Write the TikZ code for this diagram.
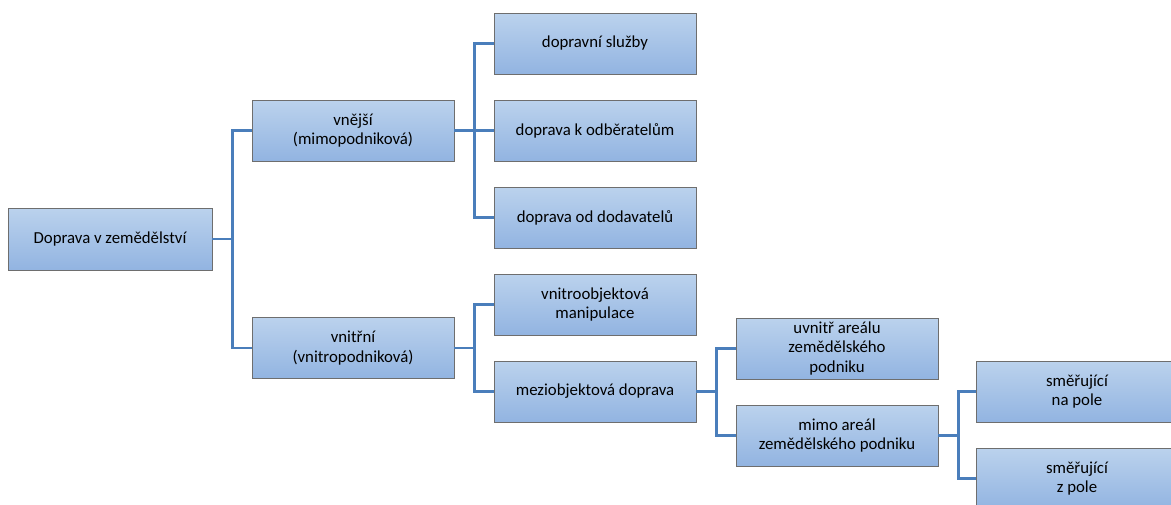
\documentclass[tikz,border=0pt]{standalone}
\usepackage{fontspec}
\setmainfont{Carlito}
\usetikzlibrary{positioning}

\definecolor{boxtop}{HTML}{BBD2ED}
\definecolor{boxbot}{HTML}{92B4E1}
\definecolor{boxline}{HTML}{6E6E6E}
\definecolor{linkblue}{HTML}{4A7EBB}

\begin{document}
\begin{tikzpicture}[x=1pt,y=-1pt,
  box/.style={draw=boxline,line width=0.8pt,top color=boxtop,bottom color=boxbot,
    minimum width=202pt,minimum height=61pt,inner sep=2pt,align=center,
    font=\fontsize{16.8}{19.5}\selectfont},
  link/.style={draw=linkblue,line width=2.4pt}]

\useasboundingbox (0,0) rectangle (1171,504);

% Level 0
\node[box,minimum width=204pt,minimum height=62pt] (root) at (110,239) {Doprava v zemědělství};

% Level 1
\node[box] (vnejsi) at (353,130.5) {vnější\\(mimopodniková)};
\node[box] (vnitrni) at (353,348) {vnitřní\\(vnitropodniková)};

% Level 2
\node[box] (sluzby) at (595,43.5) {dopravní služby};
\node[box] (odberatele) at (595,130.5) {doprava k odběratelům};
\node[box] (dodavatele) at (595,217.5) {doprava od dodavatelů};
\node[box] (manipulace) at (595,304.5) {vnitroobjektová\\manipulace};
\node[box] (mezi) at (595,391.5) {meziobjektová doprava};

% Level 3
\node[box] (uvnitr) at (837,348.5) {uvnitř areálu\\zemědělského\\podniku};
\node[box] (mimo) at (837,435.5) {mimo areál\\zemědělského podniku};

% Level 4
\node[box] (napole) at (1077,391.5) {směřující\\na pole};
\node[box] (zpole) at (1077,478.5) {směřující\\z pole};

% Connectors
\coordinate (j0) at ([xshift=20pt]root.east);
\coordinate (j1) at ([xshift=20pt]vnejsi.east);
\coordinate (j2) at ([xshift=20pt]vnitrni.east);
\coordinate (j3) at ([xshift=20pt]mezi.east);
\coordinate (j4) at ([xshift=20pt]mimo.east);

\draw[link] (root.east) -- (j0);
\draw[link] (j0) |- (vnejsi.west);
\draw[link] (j0) |- (vnitrni.west);

\draw[link] (vnejsi.east) -- (j1);
\draw[link] (j1) |- (sluzby.west);
\draw[link] (j1) |- (odberatele.west);
\draw[link] (j1) |- (dodavatele.west);

\draw[link] (vnitrni.east) -- (j2);
\draw[link] (j2) |- (manipulace.west);
\draw[link] (j2) |- (mezi.west);

\draw[link] (mezi.east) -- (j3);
\draw[link] (j3) |- (uvnitr.west);
\draw[link] (j3) |- (mimo.west);

\draw[link] (mimo.east) -- (j4);
\draw[link] (j4) |- (napole.west);
\draw[link] (j4) |- (zpole.west);

\end{tikzpicture}
\end{document}
